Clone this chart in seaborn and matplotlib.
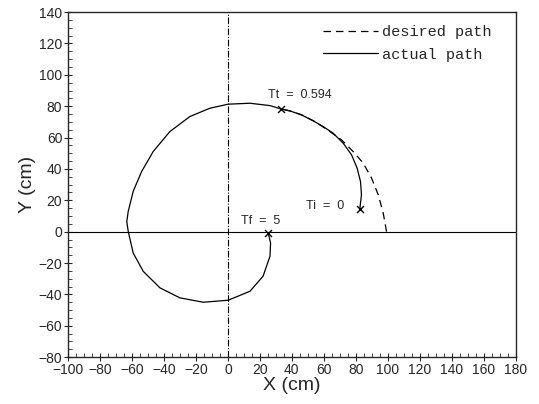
import pandas as pd
import seaborn as sns
import numpy as np
import matplotlib.pyplot as plt
from matplotlib.ticker import MultipleLocator

# path (cm), from Ti=0 to Tf=5
actual_x = [82.5, 83.5, 82.9, 80.8, 77.3, 72.1, 65.8, 59.6, 53.3, 46, 38.8, 33.1,
            26.3, 13.8, 0.2, -11.3, -23.8, -36.3, -46.7, -53.9, -59.2, -62.3, -63.2, -62.3,
            -59.2, -52.9, -42.5, -30, -15.4, 0.2, 13.8, 22, 26.3, 26.7, 25.2]
actual_y = [14.6, 23.5, 32, 40.5, 49, 56.4, 62.8, 67, 70.7, 74.5, 77, 78.3,
            80.4, 81.9, 81.3, 78.7, 73.4, 63.8, 51.1, 38.4, 25.7, 12.9, 6.5, 0.2,
            -13.6, -25.3, -35.8, -42.2, -45, -43.7, -38, -28.4, -15.7, -7.2, -0.8]
desired_x = [99.2, 97.1, 94, 89.8, 84.6, 78.3, 71, 63.8, 54.4, 46, 38.8, 33.1]
desired_y = [0, 11.9, 23.5, 34.2, 43.7, 51.1, 58.6, 63.8, 70.2, 74.5, 77, 78.3]

# marked instants
mark_labels = ["Ti  =  0", "Tt  =  0.594", "Tf  =  5"]
mark_x = [82.5, 33.1, 25.2]
mark_y = [14.6, 78.3, -0.8]

df = pd.concat([
    pd.DataFrame({"x": desired_x, "y": desired_y, "path": "desired path"}),
    pd.DataFrame({"x": actual_x, "y": actual_y, "path": "actual path"}),
])

sns.set_style("ticks")
plt.rcParams["font.family"] = ["Liberation Sans", "DejaVu Sans"]

fig = plt.figure(figsize=(5.39, 4.04), dpi=100)
ax = fig.add_axes([0.126, 0.116, 0.831, 0.854])

ax.axhline(0, color="black", lw=0.8)
ax.axvline(0, color="black", lw=0.8, ls=(0, (6, 1.5, 1, 1.5)))

sns.lineplot(data=df, x="x", y="y", style="path", style_order=["desired path", "actual path"],
             dashes={"desired path": (6, 4), "actual path": ""}, color="black", lw=0.9,
             sort=False, estimator=None, ax=ax)
ax.scatter(mark_x, mark_y, marker="x", color="black", s=25, lw=1, zorder=5)

ax.text(25, 87, mark_labels[1], fontsize=9, va="center")
ax.text(49, 16.5, mark_labels[0], fontsize=9, va="center")
ax.text(8, 6.5, mark_labels[2], fontsize=9, va="center")

ax.set_xlim(-100, 180)
ax.set_ylim(-80, 140)
ax.xaxis.set_major_locator(MultipleLocator(20))
ax.xaxis.set_minor_locator(MultipleLocator(5))
ax.yaxis.set_major_locator(MultipleLocator(20))
ax.yaxis.set_minor_locator(MultipleLocator(5))
ax.tick_params(which="major", direction="inout", length=6, width=0.8, labelsize=10, pad=1)
ax.tick_params(which="minor", direction="in", length=3, width=0.6)
for s in ax.spines.values():
    s.set_linewidth(1)

ax.set_xlabel("X (cm)", fontsize=14, labelpad=0)
ax.set_ylabel("Y (cm)", fontsize=14, labelpad=2)

h, l = ax.get_legend_handles_labels()
ax.legend(h, l, loc="upper right", bbox_to_anchor=(0.946, 0.962), frameon=False,
          borderpad=0, borderaxespad=0, handlelength=3.6, handletextpad=0.3,
          labelspacing=0.56,
          prop={"family": ["Liberation Mono", "DejaVu Sans Mono"], "size": 11})

plt.savefig("out.png", dpi=100)
